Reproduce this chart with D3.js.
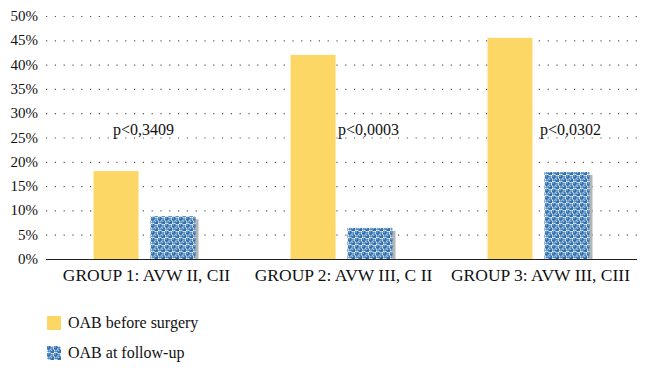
<!DOCTYPE html>
<html>
<head>
<meta charset="UTF-8" />
<script src="https://cdn.jsdelivr.net/npm/d3@7"></script>
<style>
  body { margin: 0; background: #fff; }
</style>
</head>
<body>
<script>
    // data
    let groups = ["GROUP 1: AVW II, CII", "GROUP 2: AVW III, C II", "GROUP 3: AVW III, CIII"];
    let series = ["OAB before surgery", "OAB at follow-up"];
    let before = [18.1, 42.0, 45.5];
    let followUp = [8.8, 6.4, 17.9];
    let pValues = ["p<0,3409", "p<0,0003", "p<0,0302"];
    let yTicks = [0, 5, 10, 15, 20, 25, 30, 35, 40, 45, 50];

    let w = 647, h = 372;
    let mLeft = 46, mRight = 637, mTop = 16, mBottom = 259;
    let font = "'Liberation Serif', 'Times New Roman', 'DejaVu Serif', serif";

    let svg = d3.select("body").append("svg")
        .attr("width", w)
        .attr("height", h)
        .style("font-family", font);

    let defs = svg.append("defs");

    // blue dotted pattern for the follow-up bars
    let pat = defs.append("pattern")
        .attr("id", "dots")
        .attr("patternUnits", "userSpaceOnUse")
        .attr("width", 7).attr("height", 7);
    pat.append("rect").attr("width", 7).attr("height", 7).attr("fill", "#ffffff");
    [[1.75, 1.75], [5.25, 5.25]].forEach(c => {
        pat.append("circle").attr("cx", c[0]).attr("cy", c[1]).attr("r", 2.2).attr("fill", "#2f6fad");
        pat.append("circle").attr("cx", c[0] - 0.6).attr("cy", c[1] - 0.7).attr("r", 0.8).attr("fill", "#9cc3e6");
    });
    [[5.25, 1.75], [1.75, 5.25]].forEach(c => {
        pat.append("circle").attr("cx", c[0]).attr("cy", c[1]).attr("r", 1.3).attr("fill", "#5a8fc4");
    });

    let x0 = d3.scaleBand().domain(groups).range([mLeft, mRight]);
    let x1 = d3.scaleBand().domain(series)
        .range([x0.bandwidth() / 2 - 51, x0.bandwidth() / 2 + 51])
        .paddingInner(0.21);
    let y = d3.scaleLinear().domain([0, 50]).range([mBottom, mTop]);

    // gridlines
    svg.append("g").selectAll("line")
        .data(yTicks.filter(d => d > 0))
        .enter().append("line")
        .attr("x1", mLeft).attr("x2", mRight)
        .attr("y1", d => y(d) + 0.5).attr("y2", d => y(d) + 0.5)
        .attr("stroke", "#555")
        .attr("stroke-width", 1.2)
        .attr("stroke-dasharray", "1.2,7.6");

    // y labels
    svg.append("g").selectAll("text")
        .data(yTicks)
        .enter().append("text")
        .attr("x", 38)
        .attr("y", d => y(d) + 5)
        .attr("text-anchor", "end")
        .attr("font-size", 15)
        .attr("fill", "#111")
        .text(d => d + "%");

    let g = svg.append("g").selectAll("g")
        .data(groups)
        .enter().append("g")
        .attr("transform", d => `translate(${x0(d)},0)`);

    // before bars
    g.append("rect")
        .attr("x", x1(series[0]))
        .attr("y", (d, i) => y(before[i]))
        .attr("width", x1.bandwidth())
        .attr("height", (d, i) => mBottom - y(before[i]))
        .attr("fill", "#fdd766");

    // shadow + follow-up bars
    g.append("rect")
        .attr("x", x1(series[1]) + 3)
        .attr("y", (d, i) => y(followUp[i]) + 3)
        .attr("width", x1.bandwidth())
        .attr("height", (d, i) => mBottom - y(followUp[i]) - 3)
        .attr("fill", "#b5b5b5");
    g.append("rect")
        .attr("x", x1(series[1]))
        .attr("y", (d, i) => y(followUp[i]))
        .attr("width", x1.bandwidth())
        .attr("height", (d, i) => mBottom - y(followUp[i]))
        .attr("fill", "url(#dots)");

    // p values
    let pX = [113, 338, 540];
    svg.append("g").selectAll("text")
        .data(pValues)
        .enter().append("text")
        .attr("x", (d, i) => pX[i])
        .attr("y", 135)
        .attr("font-size", 16)
        .attr("fill", "#111")
        .text(d => d);

    // x axis
    svg.append("line")
        .attr("x1", mLeft).attr("x2", mRight)
        .attr("y1", mBottom + 0.5).attr("y2", mBottom + 0.5)
        .attr("stroke", "#222").attr("stroke-width", 1);

    svg.append("g").selectAll("text")
        .data(groups)
        .enter().append("text")
        .attr("x", d => x0(d) + x0.bandwidth() / 2 + 2)
        .attr("y", 281)
        .attr("text-anchor", "middle")
        .attr("font-size", 17.5)
        .attr("fill", "#111")
        .text(d => d);

    // legend
    let leg = svg.append("g").selectAll("g")
        .data(series)
        .enter().append("g")
        .attr("transform", (d, i) => `translate(47,${316 + i * 30})`);
    leg.append("rect")
        .attr("width", 14).attr("height", 14)
        .attr("fill", (d, i) => i == 0 ? "#fdd766" : "url(#dots)");
    leg.append("text")
        .attr("x", 21).attr("y", 12)
        .attr("font-size", 16)
        .attr("fill", "#111")
        .text(d => d);
</script>
</body>
</html>
